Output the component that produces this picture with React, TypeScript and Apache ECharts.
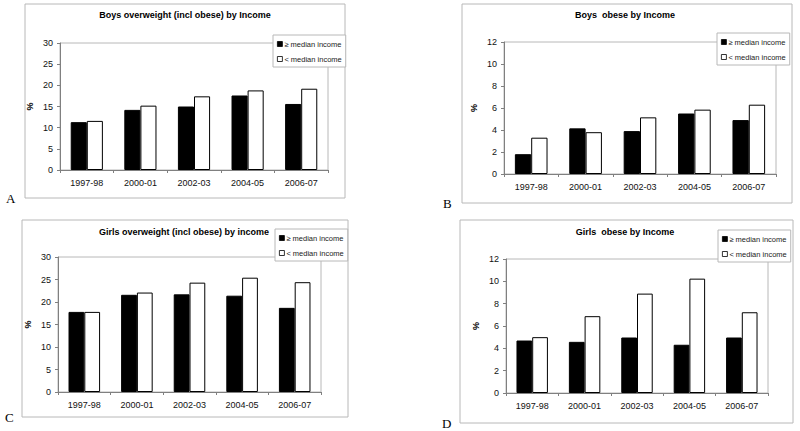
import React, { useEffect, useRef } from "react";
import * as echarts from "echarts";

const categories = ["1997-98", "2000-01", "2002-03", "2004-05", "2006-07"];
const seriesNames = ["≥ median income", "< median income"];

const boysOverweightAbove = [11.3, 14.2, 15.0, 17.6, 15.6];
const boysOverweightBelow = [11.6, 15.2, 17.4, 18.8, 19.2];
const boysObeseAbove = [1.8, 4.15, 3.9, 5.5, 4.9];
const boysObeseBelow = [3.3, 3.8, 5.15, 5.85, 6.3];
const girlsOverweightAbove = [17.8, 21.6, 21.7, 21.4, 18.7];
const girlsOverweightBelow = [17.8, 22.1, 24.3, 25.4, 24.4];
const girlsObeseAbove = [4.7, 4.58, 4.97, 4.32, 4.97];
const girlsObeseBelow = [5.0, 6.88, 8.9, 10.24, 7.23];

const titles = [
  "Boys overweight (incl obese) by Income",
  "Boys  obese by Income",
  "Girls overweight (incl obese) by income",
  "Girls  obese by Income",
];
const panelLetters = ["A", "B", "C", "D"];
const yMax = [30, 12, 30, 12];
const yInterval = [5, 2, 5, 2];

export default function App() {
  const ref = useRef<HTMLDivElement>(null);
  useEffect(() => {
    if (!ref.current) return;
    const chart = echarts.init(ref.current, null, { renderer: "svg" });
    const font = "Liberation Sans, Arial, sans-serif";
    const grids = [
      { left: 60, top: 43, width: 268, height: 127 },
      { left: 504, top: 42, width: 272, height: 132 },
      { left: 58, top: 257, width: 263, height: 135 },
      { left: 506, top: 259, width: 262, height: 134 },
    ];
    const frames = [
      { x: 25, y: 4, w: 320, h: 194 },
      { x: 462, y: 4, w: 330, h: 199 },
      { x: 22, y: 220, w: 326, h: 197 },
      { x: 460, y: 220, w: 333, h: 203 },
    ];
    const titlePos = [
      { x: 185, y: 15 },
      { x: 625, y: 15 },
      { x: 184, y: 232 },
      { x: 625, y: 232 },
    ];
    const letterPos = [
      { x: 6, y: 198 },
      { x: 443, y: 203 },
      { x: 5, y: 417 },
      { x: 442, y: 423 },
    ];
    const legendPos = [
      { left: 273, top: 35 },
      { left: 717, top: 33 },
      { left: 275, top: 229 },
      { left: 718, top: 230 },
    ];
    const data = [
      [boysOverweightAbove, boysOverweightBelow],
      [boysObeseAbove, boysObeseBelow],
      [girlsOverweightAbove, girlsOverweightBelow],
      [girlsObeseAbove, girlsObeseBelow],
    ];
    const graphic: any[] = [];
    frames.forEach((f) => {
      graphic.push({
        type: "rect",
        shape: { x: f.x, y: f.y, width: f.w, height: f.h },
        style: { fill: "#fff", stroke: "#b8b8b8", lineWidth: 1 },
        z: -10,
      });
    });
    titlePos.forEach((p, i) => {
      graphic.push({
        type: "text",
        x: p.x,
        y: p.y,
        style: {
          text: titles[i],
          font: `bold 9px ${font}`,
          fill: "#000",
          textAlign: "center",
          textVerticalAlign: "middle",
        },
      });
    });
    letterPos.forEach((p, i) => {
      graphic.push({
        type: "text",
        x: p.x,
        y: p.y,
        style: {
          text: panelLetters[i],
          font: `13px Liberation Serif, Times New Roman, serif`,
          fill: "#000",
          textVerticalAlign: "middle",
        },
      });
    });

    const series: any[] = [];
    data.forEach((pair, i) => {
      pair.forEach((vals, j) => {
        series.push({
          type: "bar",
          name: seriesNames[j],
          xAxisIndex: i,
          yAxisIndex: i,
          data: vals,
          barGap: "0%",
          barCategoryGap: "40%",
          itemStyle: {
            color: j === 0 ? "#000" : "#fff",
            borderColor: "#000",
            borderWidth: 1,
          },
        });
      });
    });

    chart.setOption({
      animation: false,
      backgroundColor: "#fff",
      grid: grids.map((g) => ({
        ...g,
        show: true,
        borderColor: "#b8b8b8",
        borderWidth: 1,
        backgroundColor: "transparent",
      })),
      xAxis: grids.map((_, i) => ({
        type: "category",
        gridIndex: i,
        data: categories,
        axisLine: { lineStyle: { color: "#808080" } },
        axisTick: { show: true, alignWithLabel: false, length: 3, lineStyle: { color: "#808080" } },
        axisLabel: { color: "#111", fontSize: 9, fontFamily: font, margin: 8 },
      })),
      yAxis: grids.map((_, i) => ({
        type: "value",
        gridIndex: i,
        min: 0,
        max: yMax[i],
        interval: yInterval[i],
        name: "%",
        nameLocation: "middle",
        nameRotate: 90,
        nameGap: 26,
        nameTextStyle: { fontSize: 9, fontWeight: "bold", fontFamily: font, color: "#000" },
        axisLine: { show: true, lineStyle: { color: "#808080" } },
        axisTick: { show: true, length: 3, lineStyle: { color: "#808080" } },
        axisLabel: { color: "#111", fontSize: 9, fontFamily: font, margin: 7 },
        splitLine: { show: false },
      })),
      legend: legendPos.map((p) => ({
        ...p,
        orient: "vertical",
        data: seriesNames.map((n) => ({ name: n, icon: "rect" })),
        itemWidth: 5,
        itemHeight: 5,
        itemGap: 7,
        itemStyle: { borderWidth: 0.8, borderColor: "#000" },
        padding: [5, 4, 4, 4],
        borderColor: "#b8b8b8",
        borderWidth: 1,
        backgroundColor: "#fff",
        selectedMode: false,
        textStyle: { fontSize: 7.5, fontFamily: font, color: "#222", padding: [0, 0, 0, -3] },
      })),
      graphic,
      series,
    });
    return () => chart.dispose();
  }, []);
  return (
    <div
      ref={ref}
      style={{ position: "fixed", left: 0, top: 0, width: 800, height: 431 }}
    />
  );
}
